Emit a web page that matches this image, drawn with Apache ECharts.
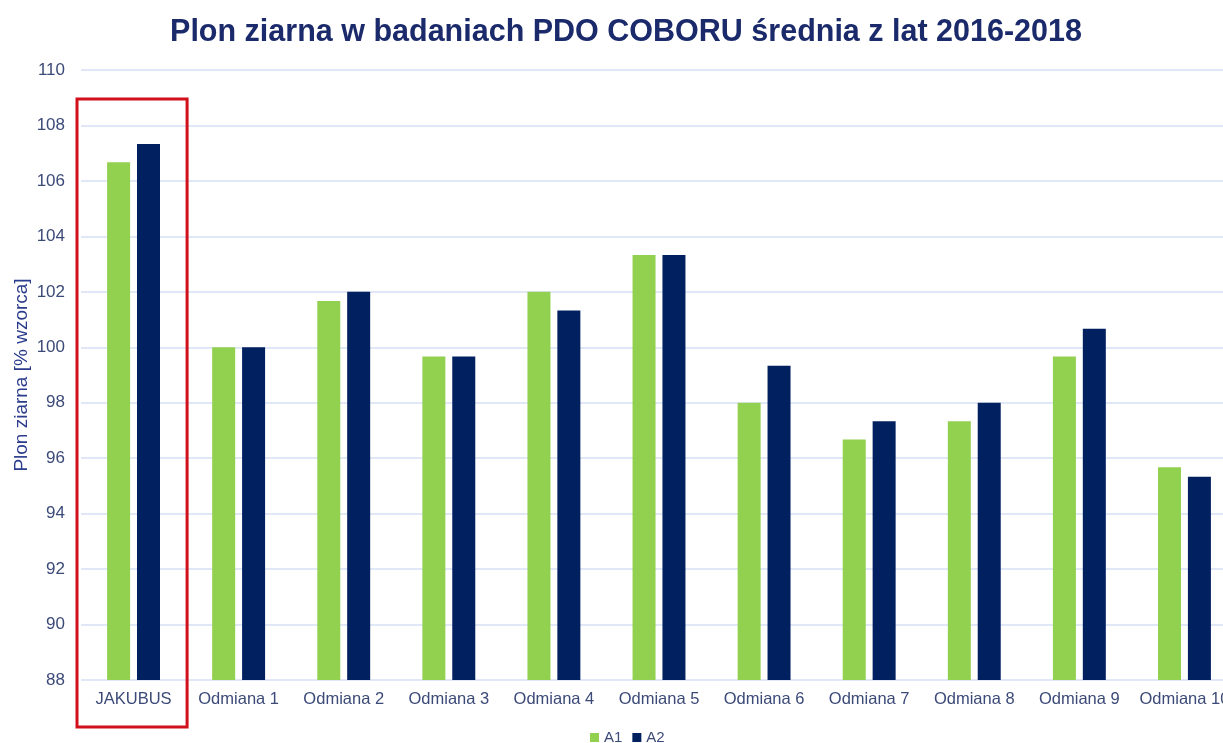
<!DOCTYPE html>
<html lang="pl">
<head>
  <meta charset="UTF-8">
  <title>Plon ziarna</title>
  <script src="https://cdn.jsdelivr.net/npm/echarts@6/dist/echarts.min.js"></script>
  <style>
    html, body { margin: 0; padding: 0; background: #fff; overflow: hidden; }
    /* wykres jest szerszy niz okno, ostatnia etykieta jest ucieta jak w oryginale */
    #chart { width: 1237px; height: 743px; }
  </style>
</head>
<body>
<div id="chart"></div>
<script>
  // dane
  var odmiany = ['JAKUBUS', 'Odmiana 1', 'Odmiana 2', 'Odmiana 3', 'Odmiana 4', 'Odmiana 5',
                 'Odmiana 6', 'Odmiana 7', 'Odmiana 8', 'Odmiana 9', 'Odmiana 10'];
  var a1 = [106.67, 100, 101.67, 99.67, 102, 103.33, 98, 96.67, 97.33, 99.67, 95.67];
  var a2 = [107.33, 100, 102, 99.67, 101.33, 103.33, 99.33, 97.33, 98, 100.67, 95.33];
  var yMin = 88, yMax = 110, yStep = 2;

  var chart = echarts.init(document.getElementById('chart'));
  var txt = '#3c4a78';
  var font = 'Liberation Sans, Arial';

  var option = {
    animation: false,
    title: {
      text: 'Plon ziarna w badaniach PDO COBORU średnia z lat 2016-2018',
      left: 621,
      textAlign: 'center',
      top: 12,
      textStyle: { fontFamily: font, fontSize: 30.5, fontWeight: 'bold', color: '#1b2a6b' }
    },
    legend: {
      data: ['A1', 'A2'],
      bottom: -7,
      left: 585,
      icon: 'rect',
      itemWidth: 9,
      itemHeight: 9,
      itemGap: 10,
      textStyle: { fontFamily: font, fontSize: 15, color: txt }
    },
    grid: { left: 81, right: 0, top: 70, bottom: 63, outerBoundsMode: 'none' },
    xAxis: {
      type: 'category',
      data: odmiany,
      axisTick: { show: false },
      axisLine: { show: false },
      axisLabel: { margin: 11, interval: 0, fontFamily: font, fontSize: 16.5, color: txt }
    },
    yAxis: {
      type: 'value',
      min: yMin,
      max: yMax,
      interval: yStep,
      name: 'Plon ziarna [% wzorca]',
      nameLocation: 'middle',
      nameGap: 50,
      nameMoveOverlap: false,
      nameTextStyle: { fontFamily: font, fontSize: 19, color: '#2b3c8c' },
      axisLabel: { margin: 16, fontFamily: font, fontSize: 17, color: txt },
      splitLine: { lineStyle: { color: '#d6dff5', width: 1.5 } }
    },
    series: [
      { name: 'A1', type: 'bar', data: a1, barWidth: 23, barGap: '30%', itemStyle: { color: '#92d050' } },
      { name: 'A2', type: 'bar', data: a2, barWidth: 23, barGap: '30%', itemStyle: { color: '#002060' } }
    ]
  };
  chart.setOption(option);

  // czerwona ramka wokół JAKUBUS
  var cx = chart.convertToPixel({ xAxisIndex: 0 }, 0);
  var band = chart.convertToPixel({ xAxisIndex: 0 }, 1) - cx;
  var topY = chart.convertToPixel({ yAxisIndex: 0 }, 108.9) - 1.5;
  chart.setOption({
    graphic: [{
      type: 'rect',
      shape: { x: cx - band / 2 - 4, y: topY, width: band + 5, height: 727 - topY },
      style: { fill: 'none', stroke: '#d2101c', lineWidth: 3 }
    }]
  });
</script>
</body>
</html>
